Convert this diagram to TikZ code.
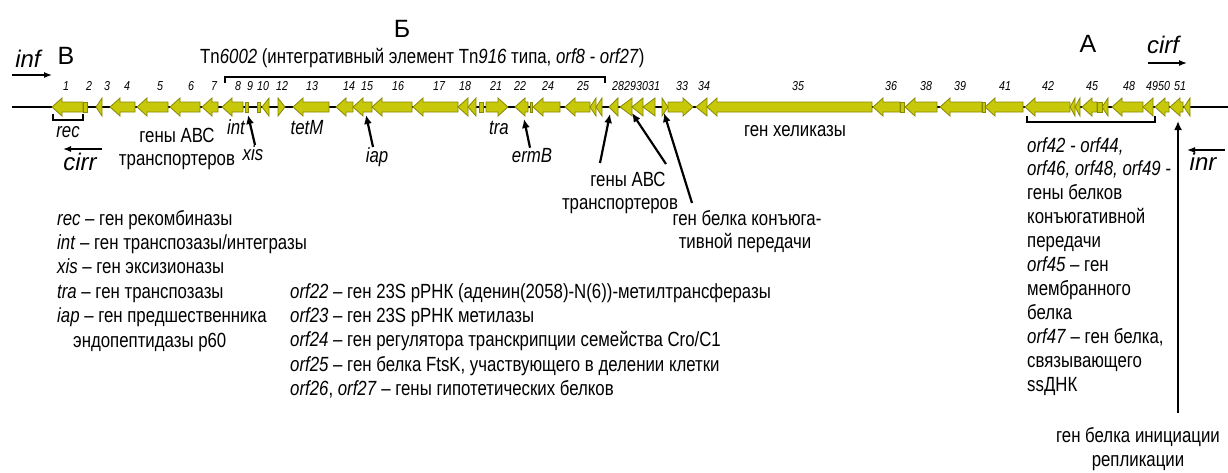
\documentclass[tikz,border=0pt]{standalone}
\usepackage{fontspec}
\setmainfont[FakeStretch=0.82]{Liberation Sans}
\newfontfamily\widefont{Liberation Sans}
\usetikzlibrary{arrows.meta}
\definecolor{genefill}{RGB}{200,200,10}
\definecolor{genedraw}{RGB}{135,135,0}
\begin{document}
\begin{tikzpicture}[x=1pt,y=-1pt,
  txt/.style={font=\fontsize{20.5}{24}\selectfont, inner sep=0pt, anchor=base},
  lab/.style={txt, font=\fontsize{20.5}{24}\selectfont\itshape},
  legend/.style={txt, anchor=base west},
  num/.style={font=\fontsize{13}{15}\selectfont\itshape, inner sep=0pt, anchor=base},
  plab/.style={font=\widefont\fontsize{24}{28}\selectfont\itshape, inner sep=0pt, anchor=base},
  big/.style={font=\widefont\fontsize{25}{30}\selectfont, inner sep=0pt, anchor=base},
  gene/.style={fill=genefill, draw=genedraw, line width=0.8pt, line join=miter},
  ptr/.style={line width=2.2pt, -{Latex[length=9pt,width=8pt]}},
  primer/.style={line width=1.3pt, -{Latex[length=8pt,width=6pt]}},
  brk/.style={line width=2.5pt}
]
\fill[white] (0,0) rectangle (1228,472);
\useasboundingbox (0,0) rectangle (1228,472);

% chromosome line
\coordinate (lineL) at (12,107);
\coordinate (lineR) at (1228,107);
\draw[line width=1.3pt] (lineL) -- (lineR);

% genes
\foreach \a/\b/\t in {52/83/L, 83/87/B, 96/102/L, 110/135/L, 137/168/L, 170/200/L, 202/218/L,
  222/243/L, 245/248/B, 257/260/B, 262/269/L, 278/285/R, 293/329/L, 336/353/L, 353/372/L,
  372/412/L, 413/458/L, 458/468/L, 468/476/L, 479/483/B, 486/508/R, 515/528/L, 530/532/B,
  533/560/L, 565/590/L, 590/596/L, 596/602/L, 609/618/L, 620/632/L, 632/643/L, 643/655/L,
  662/668/R, 668/693/R, 696/707/L, 707/872/L, 873/900/L, 900/904/B, 905/937/L, 940/982/L,
  982/985/B, 985/1023/L, 1025/1070/L, 1070/1075/L, 1075/1080/L, 1082/1097/L, 1097/1102/B,
  1102/1108/L, 1112/1143/L, 1143/1153/L, 1155/1169/L, 1170/1183/L, 1184/1190/L}{
  \pgfmathsetmacro\len{\b-\a}
  \if\t L
    \ifdim\len pt<13pt
      \filldraw[gene] (\a,107) -- (\b,98) -- (\b,116) -- cycle;
    \else
      \filldraw[gene] (\a,107) -- ({\a+10},98) -- ({\a+10},102) -- (\b,102) -- (\b,112)
        -- ({\a+10},112) -- ({\a+10},116) -- cycle;
    \fi
  \else\if\t R
    \ifdim\len pt<13pt
      \filldraw[gene] (\b,107) -- (\a,98) -- (\a,116) -- cycle;
    \else
      \filldraw[gene] (\b,107) -- ({\b-10},98) -- ({\b-10},102) -- (\a,102) -- (\a,112)
        -- ({\b-10},112) -- ({\b-10},116) -- cycle;
    \fi
  \else
    \filldraw[gene] (\a,102) rectangle (\b,112);
  \fi\fi
}

% gene numbers
\foreach \n/\x in {1/66, 2/89, 3/107, 4/127, 5/160, 6/191, 7/214, 8/238, 9/250, 10/263,
  12/282, 13/312, 14/349, 15/367, 16/398, 17/439, 18/465, 21/496, 22/520, 24/548, 25/583,
  28/618, 29/630, 30/642, 31/654, 33/682, 34/704, 35/798, 36/891, 38/926, 39/960, 41/1005,
  42/1048, 45/1092, 48/1129, 49/1152, 50/1164, 51/1180}
  \node[num] (n\n) at (\x,90) {\n};

% big letters
\node[big] (lB) at (66,64) {В};
\node[big] (lBB) at (402,37) {Б};
\node[big] (lA) at (1088,52) {А};

% Tn6002 title and bracket
\node[txt, anchor=base west] (tn) at (200,63)
  {Tn\textit{6002} (интегративный элемент Tn\textit{916} типа, \textit{orf8 - orf27})};
\draw[brk] (225,83) -- (225,77) -- (605,77) -- (605,83);

% primers
\node[plab] (inf) at (28,67) {inf};
\coordinate (infA) at (12,75); \coordinate (infB) at (52,75);
\draw[primer] (infA) -- (infB);
\node[plab] (cirf) at (1163,53) {cirf};
\coordinate (cirfA) at (1148,63); \coordinate (cirfB) at (1187,63);
\draw[primer] (cirfA) -- (cirfB);
\node[plab] (cirr) at (80,170) {cirr};
\coordinate (cirrA) at (102,149); \coordinate (cirrB) at (63,149);
\draw[primer] (cirrA) -- (cirrB);
\node[plab] (inr) at (1203,170) {inr};
\coordinate (inrA) at (1225,150); \coordinate (inrB) at (1187,150);
\draw[primer] (inrA) -- (inrB);

% brackets under genes
\draw[brk] (53,114) -- (53,120) -- (83,120) -- (83,114);
\draw[brk] (1027,116) -- (1027,122) -- (1155,122) -- (1155,116);

% gene labels
\node[lab] (rec) at (68,137) {rec};
\node[txt] (abc1a) at (177,142) {гены АВС};
\node[txt] (abc1b) at (177,165) {транспортеров};
\node[lab] (int) at (236,134) {int};
\node[lab] (xis) at (253,160) {xis};
\node[lab] (tetM) at (307,134) {tetM};
\node[lab] (iap) at (377,162) {iap};
\node[lab] (tra) at (499,134) {tra};
\node[lab] (ermB) at (532,162) {ermB};
\node[txt] (abc2a) at (628,186) {гены АВС};
\node[txt] (abc2b) at (620,209) {транспортеров};
\node[txt] (conja) at (747,225) {ген белка конъюга-};
\node[txt] (conjb) at (745,248) {тивной передачи};
\node[txt] (hel) at (795,136) {ген хеликазы};
\node[txt] (repa) at (1138,442) {ген белка инициации};
\node[txt] (repb) at (1138,466) {репликации};

% pointer targets
\coordinate (g9) at (248,115);
\coordinate (g15) at (366,115);
\coordinate (g22) at (524,119);
\coordinate (g28) at (610,114);
\coordinate (g30) at (632,113);
\coordinate (g32) at (664,113);
\coordinate (g51) at (1178,121);
\coordinate (abcT1) at (600,163);
\coordinate (abcT2) at (666,164);
\coordinate (conjT) at (692,203);
\coordinate (repT) at (1178,413);

\draw[ptr] ([xshift=2pt]xis.north) -- (g9);
\draw[ptr] ([xshift=-4pt]iap.north) -- (g15);
\draw[ptr] ([xshift=-2pt]ermB.north) -- (g22);
\draw[ptr] (abcT1) -- (g28);
\draw[ptr] (abcT2) -- (g30);
\draw[ptr] (conjT) -- (g32);
\draw[ptr] (repT) -- (g51);

% left legend
\foreach \t [count=\i] in {{\textit{rec} – ген рекомбиназы},
  {\textit{int} – ген транспозазы/интегразы},
  {\textit{xis} – ген эксизионазы},
  {\textit{tra} – ген транспозазы},
  {\textit{iap} – ген предшественника},
  {\hspace*{16pt}эндопептидазы р60}}
  \node[legend] (legL\i) at (57,{225+24.4*(\i-1)}) {\t};

% middle legend
\foreach \t [count=\i] in {{\textit{orf22} – ген 23S рРНК (аденин(2058)-N(6))-метилтрансферазы},
  {\textit{orf23} – ген 23S рРНК метилазы},
  {\textit{orf24} – ген регулятора транскрипции семейства Cro/C1},
  {\textit{orf25} – ген белка FtsK, участвующего в делении клетки},
  {\textit{orf26}, \textit{orf27} – гены гипотетических белков}}
  \node[legend] (legM\i) at (290,{298+24.4*(\i-1)}) {\t};

% right legend
\foreach \t [count=\i] in {{\textit{orf42 - orf44,}},
  {\textit{orf46, orf48, orf49 -}},
  {гены белков},
  {конъюгативной},
  {передачи},
  {\textit{orf45} – ген},
  {мембранного},
  {белка},
  {\textit{orf47} – ген белка,},
  {связывающего},
  {ssДНК}}
  \node[legend] (legR\i) at (1027,{152+23.95*(\i-1)}) {\t};
\end{tikzpicture}
\end{document}
